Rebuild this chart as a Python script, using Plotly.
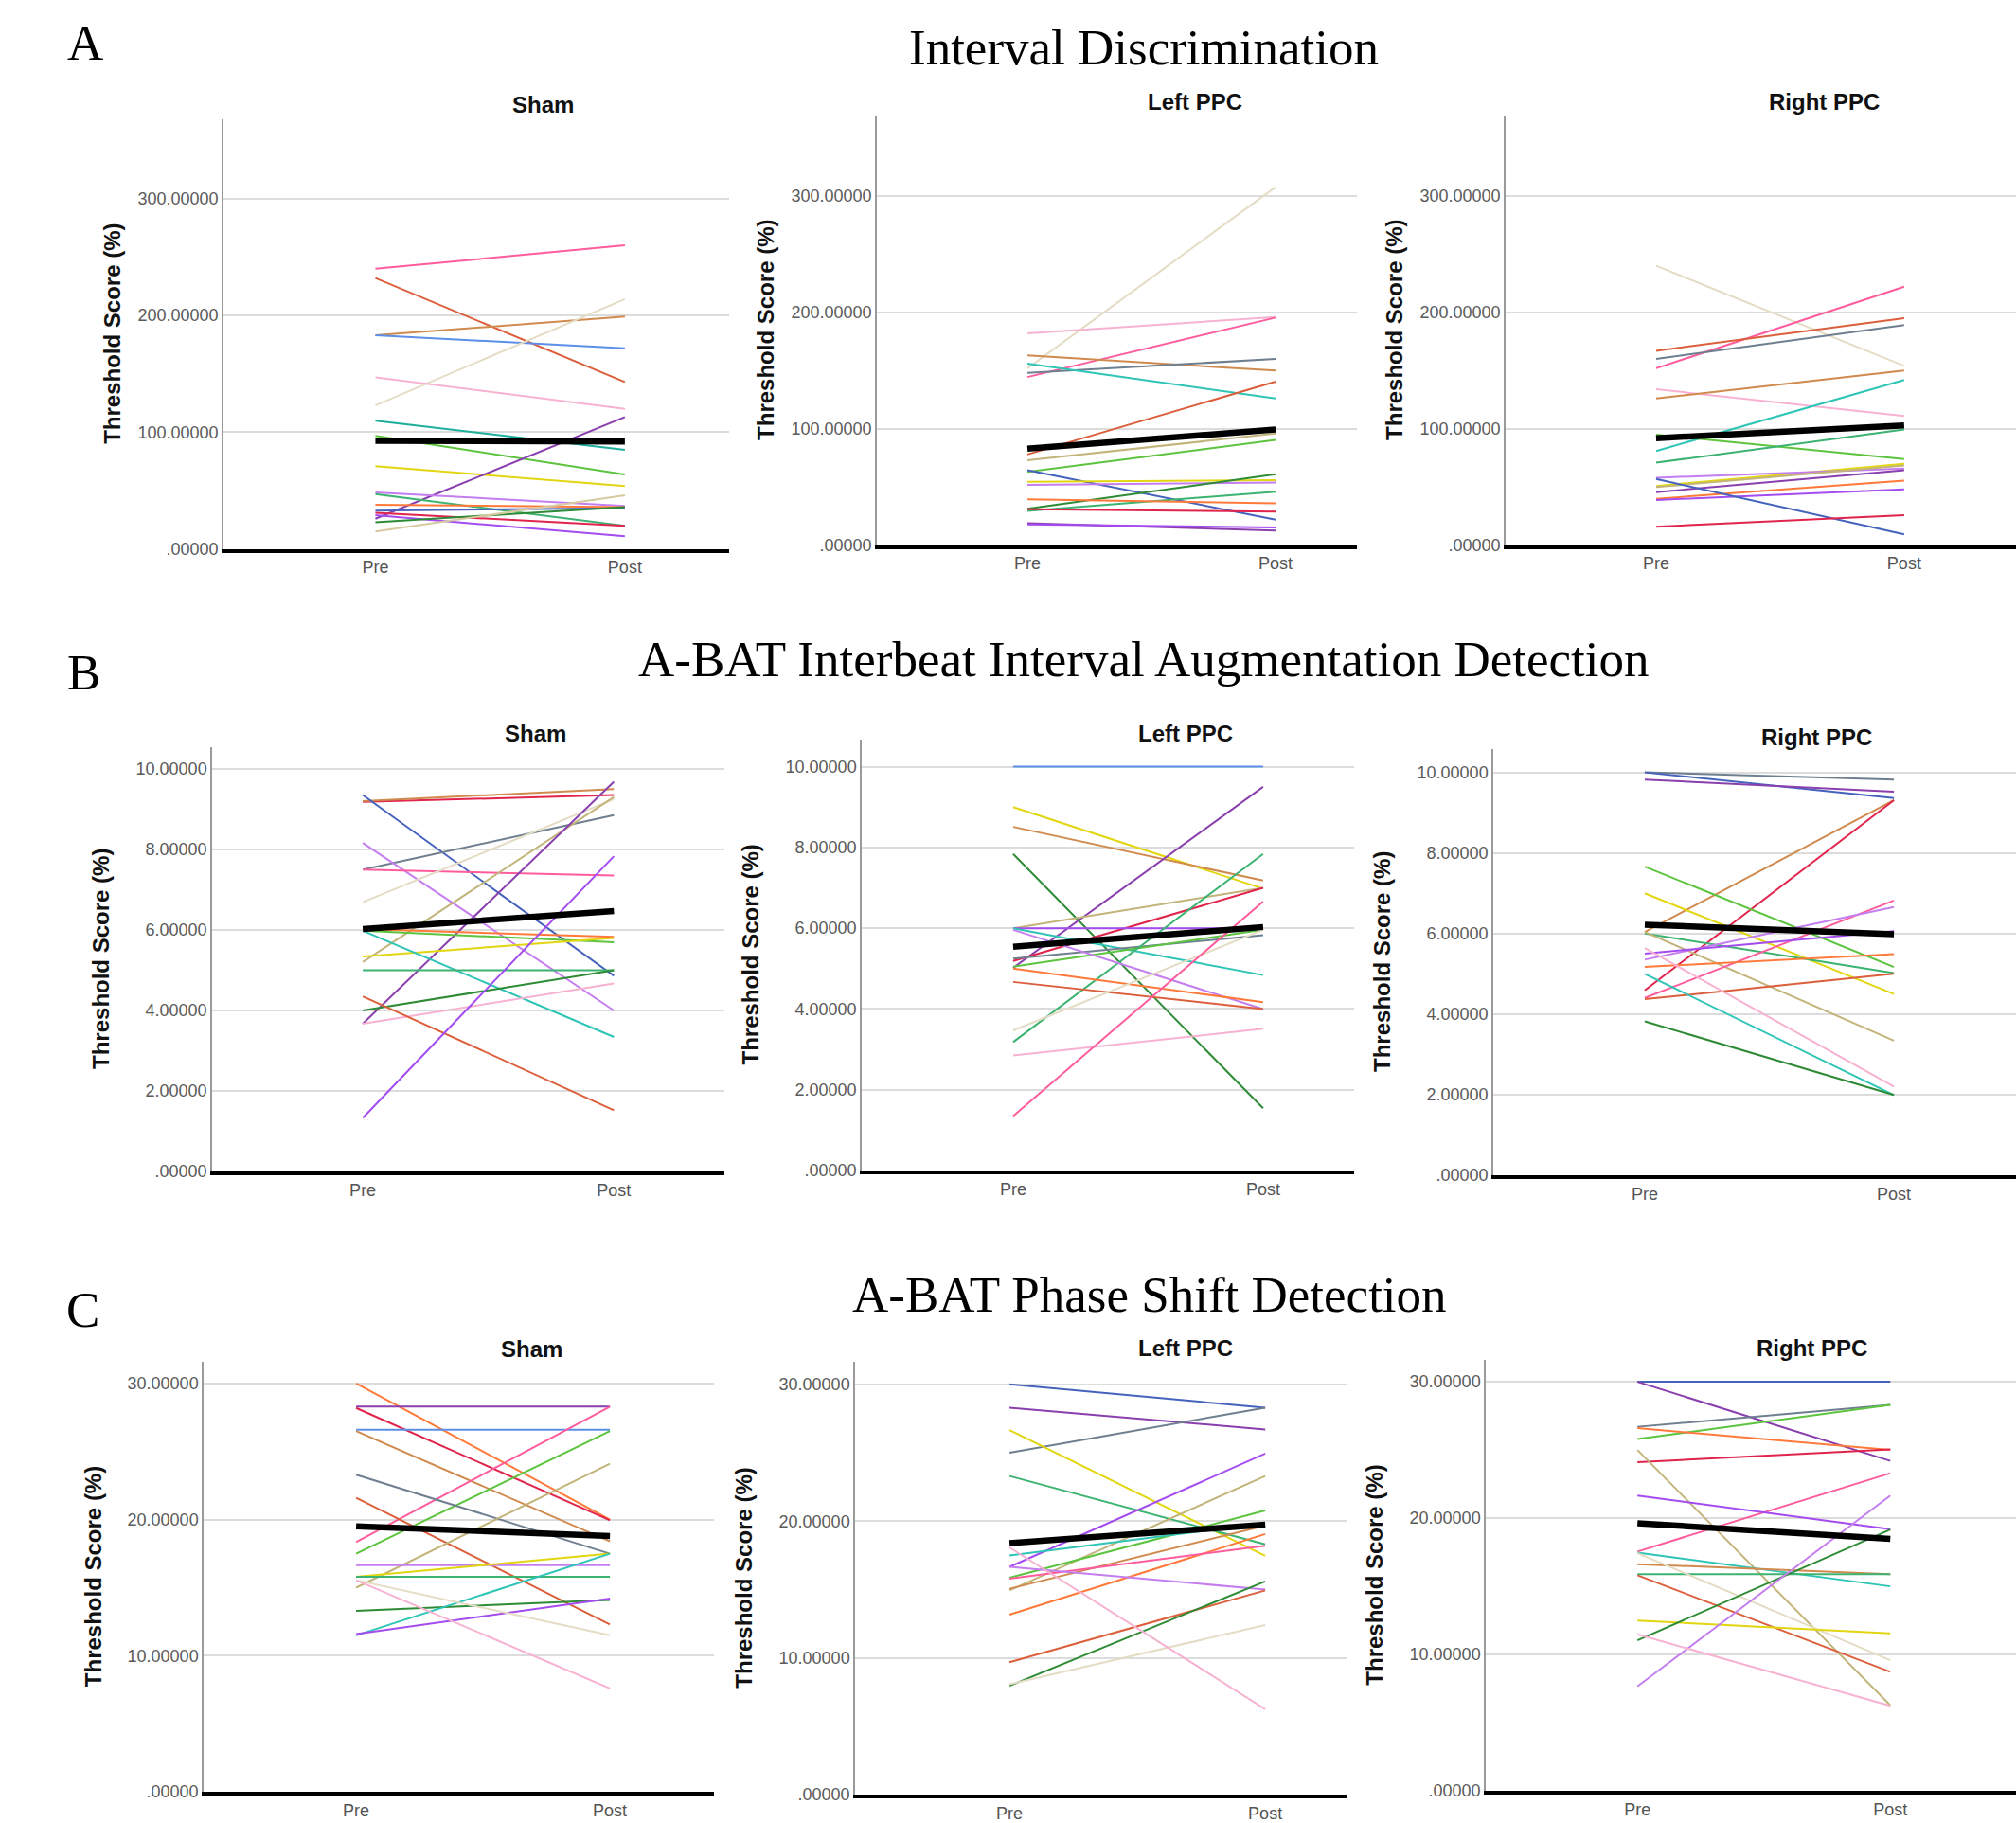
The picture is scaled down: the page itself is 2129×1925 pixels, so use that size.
import plotly.graph_objects as go

W, H = 2129, 1925
CATS = ["Pre", "Post"]

# ---------------- data ----------------
# Row A: Interval Discrimination
A_SHAM_PRE = [240, 232, 183, 183, 123, 147, 110, 97, 71, 26, 48.5, 47, 38, 33, 31, 29, 23, 15]
A_SHAM_POST = [260, 143, 199, 172, 214, 120, 85, 64, 54, 113, 37, 20, 36, 35, 20, 11, 36, 46]
A_SHAM_MEAN = [92.7, 92.0]

A_LEFT_PRE = [152, 182, 144.5, 163, 148, 156, 78, 73, 63, 64.5, 54.5, 52, 31.4, 29.5, 39.5, 31, 19, 18]
A_LEFT_POST = [307.5, 196, 195.5, 150, 160, 126, 140.5, 96, 90.5, 22, 56, 54, 61, 46, 36, 29, 12.6, 15.3]
A_LEFT_MEAN = [83.0, 99.4]

A_RIGHT_PRE = [240, 152, 167, 160, 134, 126, 81, 95, 71, 51, 58, 45.7, 50, 40, 39, 57, 16]
A_RIGHT_POST = [154, 222, 195, 189, 111, 150, 142, 74, 99.5, 70, 66, 64.5, 68.5, 55.6, 48, 9.4, 26]
A_RIGHT_MEAN = [92.0, 103.0]

# Row B: A-BAT Interbeat Interval Augmentation Detection
B_SHAM_PRE = [9.18, 9.2, 9.35, 7.5, 8.16, 7.5, 6.69, 5.2, 3.67, 6.02, 5.98, 5.34, 5.98, 5.0, 4.0, 3.67, 4.35, 1.33]
B_SHAM_POST = [9.35, 9.5, 4.86, 8.85, 4.0, 7.35, 9.25, 9.3, 9.68, 5.83, 5.69, 5.8, 3.34, 5.0, 5.0, 4.67, 1.52, 7.83]
B_SHAM_MEAN = [6.02, 6.47]

B_LEFT_PRE = [10.0, 9.0, 8.51, 7.84, 5.02, 6.0, 5.19, 6.0, 6.0, 5.25, 5.05, 3.18, 5.96, 5.0, 4.67, 3.47, 2.85, 1.35]
B_LEFT_POST = [10.0, 6.98, 7.18, 1.54, 9.5, 7.0, 7.0, 6.0, 4.84, 5.83, 5.96, 7.84, 4.0, 4.17, 4.0, 5.96, 3.51, 6.66]
B_LEFT_MEAN = [5.54, 6.03]

B_RIGHT_PRE = [10.0, 10.0, 9.82, 6.04, 4.59, 7.66, 7.0, 6.0, 6.04, 4.4, 5.35, 5.5, 5.17, 4.37, 5.64, 5.0, 3.82]
B_RIGHT_POST = [9.82, 9.36, 9.52, 9.31, 9.31, 5.17, 4.5, 5.02, 3.34, 6.82, 6.66, 6.06, 5.49, 5.0, 2.2, 1.99, 1.99]
B_RIGHT_MEAN = [6.22, 5.98]

# Row C: A-BAT Phase Shift Detection
C_SHAM_PRE = [30, 28.3, 28.2, 26.6, 26.5, 18.35, 17.5, 23.3, 21.6, 15.0, 16.65, 15.8, 15.8, 13.3, 11.5, 11.6, 15.55, 15.55]
C_SHAM_POST = [20, 28.3, 19.95, 26.6, 18.4, 28.3, 26.5, 17.5, 12.3, 24.1, 16.65, 17.5, 15.8, 14.1, 17.5, 14.2, 11.5, 7.6]
C_SHAM_MEAN = [19.5, 18.8]

C_LEFT_PRE = [30, 28.3, 25.0, 26.66, 23.3, 16.66, 14.94, 15.86, 17.5, 15.06, 13.16, 15.8, 16.66, 9.68, 7.96, 8.08, 18.08]
C_LEFT_POST = [28.3, 26.7, 28.3, 17.46, 18.3, 24.94, 23.3, 20.78, 19.86, 19.68, 19.06, 18.2, 15.0, 14.94, 15.6, 12.4, 6.25]
C_LEFT_MEAN = [18.4, 19.75]

C_RIGHT_PRE = [30, 30, 26.7, 25.8, 26.6, 24.1, 25.0, 17.55, 21.66, 17.48, 16.63, 15.9, 15.82, 17.44, 12.5, 11.04, 7.67, 11.48]
C_RIGHT_POST = [30, 24.2, 28.3, 28.3, 25.0, 25.05, 6.28, 23.3, 19.2, 15.0, 15.9, 15.9, 8.73, 9.58, 11.55, 19.17, 21.66, 6.24]
C_RIGHT_MEAN = [19.63, 18.48]

# tick labels
A_TICKS = [0, 100, 200, 300]
A_TICKTEXT = [".00000", "100.00000", "200.00000", "300.00000"]
B_TICKS = [0, 2, 4, 6, 8, 10]
B_TICKTEXT = [".00000", "2.00000", "4.00000", "6.00000", "8.00000", "10.00000"]
C_TICKS = [0, 10, 20, 30]
C_TICKTEXT = [".00000", "10.00000", "20.00000", "30.00000"]

SUBTITLES = ["Sham", "Left PPC", "Right PPC"]
HEADINGS = ["Interval Discrimination",
            "A-BAT Interbeat Interval Augmentation Detection",
            "A-BAT Phase Shift Detection"]
LETTERS = ["A", "B", "C"]
YTITLE = "Threshold Score (%)"

# ---------------- styles ----------------
K = dict(
    hotpink="#ff5c9d", tomato="#dc5f3c", peru="#d08a4e", cornflower="#5b8fe8",
    wheat="#e4dcc4", lightpink="#f7b2d2", teal="#1fae9c", limegreen="#5cc43e",
    yellow="#e2d610", darkorchid="#8a3fae", violet="#c47ef0", seagreen="#3cb371",
    orange="#ff7a3a", royalblue="#4562bd", crimson="#e0244c", blueviolet="#a44cf0",
    forest="#2e8b35", tan="#d6caa0", slate="#6f7f8f", khaki="#c2b47a", turq="#2ec4b6",
)

A_SHAM_COLORS = ["hotpink", "tomato", "peru", "cornflower", "wheat", "lightpink", "teal", "limegreen",
                 "yellow", "darkorchid", "violet", "seagreen", "orange", "royalblue", "crimson",
                 "blueviolet", "forest", "tan"]
A_LEFT_COLORS = ["wheat", "lightpink", "hotpink", "peru", "slate", "turq", "tomato", "khaki", "limegreen",
                 "royalblue", "yellow", "violet", "forest", "seagreen", "orange", "crimson", "darkorchid",
                 "blueviolet"]
A_RIGHT_COLORS = ["wheat", "hotpink", "tomato", "slate", "lightpink", "peru", "turq", "limegreen", "seagreen",
                  "yellow", "violet", "darkorchid", "khaki", "orange", "blueviolet", "royalblue", "crimson"]
B_SHAM_COLORS = ["crimson", "peru", "royalblue", "slate", "violet", "hotpink", "wheat", "khaki", "darkorchid",
                 "orange", "limegreen", "yellow", "turq", "seagreen", "forest", "lightpink", "tomato",
                 "blueviolet"]
B_LEFT_COLORS = ["cornflower", "yellow", "peru", "forest", "darkorchid", "khaki", "crimson", "blueviolet",
                 "turq", "slate", "limegreen", "seagreen", "violet", "orange", "tomato", "wheat", "lightpink",
                 "hotpink"]
B_RIGHT_COLORS = ["slate", "royalblue", "darkorchid", "peru", "crimson", "limegreen", "yellow", "seagreen",
                  "khaki", "hotpink", "violet", "blueviolet", "orange", "tomato", "lightpink", "turq", "forest"]
C_SHAM_COLORS = ["orange", "darkorchid", "crimson", "cornflower", "peru", "hotpink", "limegreen", "slate",
                 "tomato", "khaki", "violet", "yellow", "seagreen", "forest", "turq", "blueviolet", "wheat",
                 "lightpink"]
C_LEFT_COLORS = ["royalblue", "darkorchid", "slate", "yellow", "seagreen", "blueviolet", "khaki", "limegreen",
                 "turq", "peru", "orange", "hotpink", "violet", "tomato", "forest", "wheat", "lightpink"]
C_RIGHT_COLORS = ["royalblue", "darkorchid", "slate", "limegreen", "orange", "crimson", "khaki", "hotpink",
                  "blueviolet", "turq", "peru", "seagreen", "tomato", "wheat", "yellow", "forest", "violet",
                  "lightpink"]

PANELS = [
    (A_SHAM_PRE, A_SHAM_POST, A_SHAM_MEAN, A_SHAM_COLORS, A_TICKS, A_TICKTEXT),
    (A_LEFT_PRE, A_LEFT_POST, A_LEFT_MEAN, A_LEFT_COLORS, A_TICKS, A_TICKTEXT),
    (A_RIGHT_PRE, A_RIGHT_POST, A_RIGHT_MEAN, A_RIGHT_COLORS, A_TICKS, A_TICKTEXT),
    (B_SHAM_PRE, B_SHAM_POST, B_SHAM_MEAN, B_SHAM_COLORS, B_TICKS, B_TICKTEXT),
    (B_LEFT_PRE, B_LEFT_POST, B_LEFT_MEAN, B_LEFT_COLORS, B_TICKS, B_TICKTEXT),
    (B_RIGHT_PRE, B_RIGHT_POST, B_RIGHT_MEAN, B_RIGHT_COLORS, B_TICKS, B_TICKTEXT),
    (C_SHAM_PRE, C_SHAM_POST, C_SHAM_MEAN, C_SHAM_COLORS, C_TICKS, C_TICKTEXT),
    (C_LEFT_PRE, C_LEFT_POST, C_LEFT_MEAN, C_LEFT_COLORS, C_TICKS, C_TICKTEXT),
    (C_RIGHT_PRE, C_RIGHT_POST, C_RIGHT_MEAN, C_RIGHT_COLORS, C_TICKS, C_TICKTEXT),
]

# geometry (pixels): x0, x1, ytop, ybottom, ymax, xrange0, xrange1, title_x, title_y
GEOM = [
    (236, 770, 127, 585, 368.0, -0.609, 1.418, 573, 111),
    (926, 1433, 123, 581, 369.0, -0.607, 1.328, 1262, 108),
    (1590, 2129, 123, 581, 369.0, -0.607, 1.451, 1926, 108),
    (224, 765, 796, 1248, 10.54, -0.600, 1.440, 566, 781),
    (910, 1430, 788, 1247, 10.67, -0.606, 1.364, 1252, 781),
    (1577, 2129, 798, 1252, 10.58, -0.608, 1.490, 1918, 785),
    (215, 754, 1451, 1909, 31.58, -0.601, 1.410, 561, 1437),
    (903, 1422, 1451, 1912, 31.64, -0.604, 1.318, 1252, 1436),
    (1569, 2129, 1449, 1908, 31.59, -0.600, 1.497, 1913, 1436),
]
HEAD_POS = [(1208, 50), (1208, 702), (1214, 1379)]
LETTER_POS = [(90, 45), (88, 716), (87, 1395)]

SANS = "Liberation Sans, Arial, sans-serif"
SERIF = "Liberation Serif, Times New Roman, serif"


def px(x):
    return x / W


def py(y):
    return 1 - y / H


fig = go.Figure()
layout = dict(
    width=W, height=H, margin=dict(l=0, r=0, t=0, b=0),
    paper_bgcolor="white", plot_bgcolor="white", showlegend=False,
)
annotations = []

for i, (panel, geom) in enumerate(zip(PANELS, GEOM), start=1):
    pre, post, mean, colors, tv, tt = panel
    x0, x1, yt, yb, ymax, xr0, xr1, tx, ty = geom
    xa = "x" if i == 1 else f"x{i}"
    ya = "y" if i == 1 else f"y{i}"
    for a, b, c in zip(pre, post, colors):
        fig.add_trace(go.Scatter(x=CATS, y=[a, b], mode="lines", xaxis=xa, yaxis=ya,
                                 line=dict(color=K[c], width=2), hoverinfo="skip"))
    fig.add_trace(go.Scatter(x=CATS, y=mean, mode="lines", xaxis=xa, yaxis=ya,
                             line=dict(color="black", width=6.5), hoverinfo="skip"))
    layout["xaxis" if i == 1 else f"xaxis{i}"] = dict(
        domain=[px(x0), px(x1)], anchor=ya, type="category", categoryarray=CATS,
        range=[xr0, xr1], showline=True, linecolor="black", linewidth=4,
        showgrid=False, zeroline=False, ticks="",
        tickfont=dict(family=SANS, size=18, color="#555555"),
    )
    layout["yaxis" if i == 1 else f"yaxis{i}"] = dict(
        domain=[py(yb), py(yt)], anchor=xa, range=[0, ymax],
        showline=True, linecolor="#9a9a9a", linewidth=1.5,
        showgrid=True, gridcolor="#dcdcdc", gridwidth=2, zeroline=False, ticks="",
        tickvals=tv, ticktext=tt, tickfont=dict(family=SANS, size=18, color="#5a5a5a"),
    )
    col = (i - 1) % 3
    annotations.append(dict(x=px(tx), y=py(ty), xref="paper", yref="paper", text=f"<b>{SUBTITLES[col]}</b>",
                            showarrow=False, xanchor="center", yanchor="middle",
                            font=dict(family=SANS, size=24, color="#111111")))
    annotations.append(dict(x=px(x0 - 117), y=py((yt + yb) / 2), xref="paper", yref="paper",
                            text=f"<b>{YTITLE}</b>", textangle=-90, showarrow=False,
                            xanchor="center", yanchor="middle",
                            font=dict(family=SANS, size=24, color="#111111")))

for (hx, hy), text in zip(HEAD_POS, HEADINGS):
    annotations.append(dict(x=px(hx), y=py(hy), xref="paper", yref="paper", text=text, showarrow=False,
                            xanchor="center", yanchor="middle",
                            font=dict(family=SERIF, size=53, color="black")))
for (lx, ly), text in zip(LETTER_POS, LETTERS):
    annotations.append(dict(x=px(lx), y=py(ly), xref="paper", yref="paper", text=text, showarrow=False,
                            xanchor="center", yanchor="middle",
                            font=dict(family=SERIF, size=53, color="black")))

layout["annotations"] = annotations
fig.update_layout(**layout)
fig.write_html("out.html", config={"displayModeBar": False},
               post_script="document.body.style.margin='0px';document.body.style.overflow='hidden';")
